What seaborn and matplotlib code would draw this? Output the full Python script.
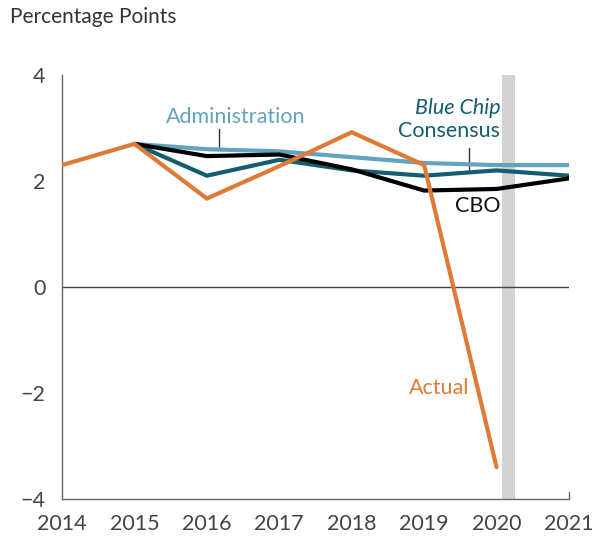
import pandas as pd
import seaborn as sns
import matplotlib.pyplot as plt

years = [2014, 2015, 2016, 2017, 2018, 2019, 2020, 2021]
actual = [2.3, 2.7, 1.67, 2.28, 2.92, 2.3, -3.4, None]
administration = [None, 2.7, 2.6, 2.56, 2.45, 2.34, 2.3, 2.3]
blue_chip = [None, 2.7, 2.1, 2.4, 2.2, 2.1, 2.2, 2.1]
cbo = [None, 2.7, 2.47, 2.5, 2.22, 1.82, 1.85, 2.05]

series = {
    'CBO': cbo,
    'Administration': administration,
    'Blue Chip': blue_chip,
    'Actual': actual,
}
colors = {'CBO': '#000000', 'Administration': '#62A3BE',
          'Blue Chip': '#125D70', 'Actual': '#E07A37'}

rows = []
for name, vals in series.items():
    for y, v in zip(years, vals):
        if v is not None:
            rows.append({'year': y, 'value': v, 'series': name})
df = pd.DataFrame(rows)

sns.set_style('white')
plt.rcParams['font.family'] = ['Lato', 'DejaVu Sans']

fig = plt.figure(figsize=(5.98, 5.4), dpi=100)
ax = fig.add_axes([0.1037, 0.0759, 0.8478, 0.7852])

# shaded bar just after 2020
ax.axvspan(2020.08, 2020.26, color='#D3D3D3', lw=0, zorder=0)
ax.axhline(0, color='#444444', lw=1, zorder=1)

sns.lineplot(data=df, x='year', y='value', hue='series', palette=colors,
             hue_order=['Administration', 'Blue Chip', 'CBO', 'Actual'],
             linewidth=3, legend=False, ax=ax, zorder=3)
for line in ax.get_lines():
    line.set_solid_joinstyle('miter')

ax.set_xlim(2014, 2021)
ax.set_ylim(-4, 4)
ax.set_xticks(years)
ax.set_yticks([-4, -2, 0, 2, 4])
ax.set_yticklabels(['\u22124', '\u22122', '0', '2', '4'])
ax.set_xlabel('')
ax.set_ylabel('')
ax.tick_params(axis='both', direction='in', length=7, width=1, color='#666666',
               labelsize=15.5, labelcolor='#444444')
ax.tick_params(axis='x', pad=11)
ax.tick_params(axis='y', pad=12)
for s in ['top', 'right']:
    ax.spines[s].set_visible(False)
for s in ['left', 'bottom']:
    ax.spines[s].set_color('#666666')
    ax.spines[s].set_linewidth(1)
ax.plot([2021, 2021], [-4, -3.87], color='#666666', lw=1, clip_on=False)

fig.text(0.017, 0.968, 'Percentage Points', fontsize=15, color='#333333', va='center')

# series labels
ax.text(2016.4, 3.21, 'Administration', color='#62A3BE', fontsize=15.5, ha='center', va='center')
ax.plot([2016.17, 2016.17], [2.98, 2.62], color='#333333', lw=1)
ax.text(2020.05, 3.38, 'Blue Chip', color='#125D70', fontsize=15.5, ha='right',
        va='center', style='italic')
ax.text(2020.05, 2.94, 'Consensus', color='#125D70', fontsize=15.5, ha='right', va='center')
ax.plot([2019.62, 2019.62], [2.62, 2.2], color='#333333', lw=1)
ax.text(2019.74, 1.53, 'CBO', color='#111111', fontsize=15.5, ha='center', va='center')
ax.text(2019.2, -1.9, 'Actual', color='#E07A37', fontsize=15.5, ha='center', va='center')

fig.savefig('out.png', dpi=100)
